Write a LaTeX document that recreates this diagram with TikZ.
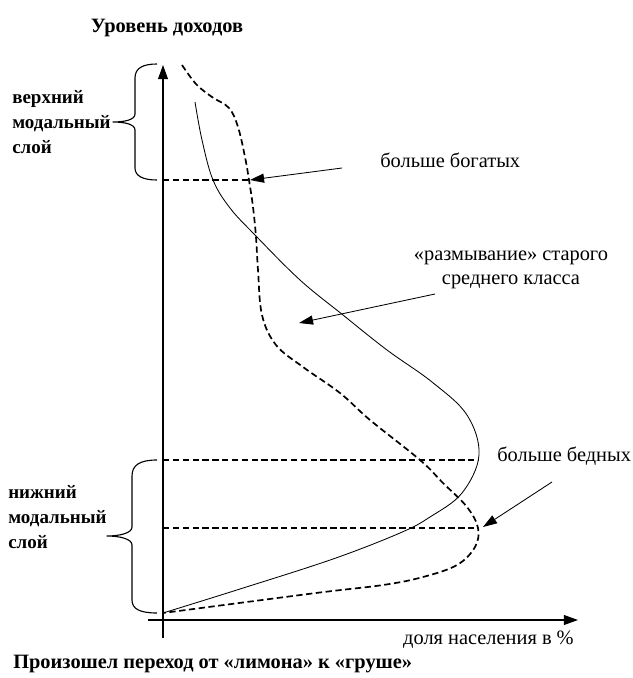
\documentclass[tikz,border=0pt]{standalone}
\usepackage{fontspec}
\setmainfont{Liberation Serif}
\usepackage{tikz}
\usetikzlibrary{arrows.meta}
\usetikzlibrary{positioning}
\tikzset{
    txt/.style = {align=center, inner sep=0pt, font=\fontsize{14.5}{17.5}\selectfont},
    txtb/.style = {align=left, inner sep=0pt, font=\fontsize{13.5}{17.5}\selectfont\bfseries},
    axis/.style = {-{Triangle[length=10pt,width=7pt]}, line width=0.8pt},
    ptr/.style = {-{Triangle[length=10pt,width=6.5pt]}, line width=0.6pt},
    brc/.style = {line width=0.8pt},
}
\begin{document}
\begin{tikzpicture}[
	x=0.025cm,
	y=-0.025cm,
	line join=round
]
\tikzset{
    oldc/.style = {line width=0.6pt},
    newc/.style = {line width=1.2pt, dash pattern=on 4.5pt off 2.5pt},
    lvl/.style = {line width=1.1pt, dash pattern=on 4.5pt off 2.5pt}
}
\useasboundingbox (0,0) rectangle (632,678);
\node[txt,font=\fontsize{14.5}{17.5}\selectfont\bfseries] at (167,28) (ytitle) {Уровень доходов};
\node[txt,anchor=east] at (574,640) (xtitle) {доля населения в \%};
\node[txt,font=\fontsize{14.5}{17.5}\selectfont\bfseries,anchor=west] at (13,664) (caption) {Произошел переход от «лимона» к «груше»};
\node[txtb,anchor=west] at (12,122) (upper) {верхний\\модальный\\слой};
\node[txtb,anchor=west] at (8,517) (lower) {нижний\\модальный\\слой};
\node[txt,anchor=west] at (380,160) (rich) {больше богатых};
\node[txt] at (511,270) (middle) {«размывание» старого\\среднего класса};
\node[txt,anchor=west] at (497,456) (poor) {больше бедных};
%
\coordinate (o) at (163,613);
\coordinate (ytop) at (163,65);
\coordinate (ybot) at (163,638);
\coordinate (xleft) at (148,620);
\coordinate (xright) at (578,620);
\draw[axis] (ybot) -- (ytop);
\draw[axis] (xleft) -- (xright);
%
\coordinate (u0) at (163,180);
\coordinate (u1) at (249,180);
\coordinate (m0) at (163,460);
\coordinate (m1) at (479,460);
\coordinate (l0) at (163,528);
\coordinate (l1) at (478,528);
\draw[lvl] (u0) -- (u1);
\draw[lvl] (m0) -- (m1);
\draw[lvl] (l0) -- (l1);
%
\draw[oldc] plot[smooth,tension=0.6] coordinates {(195,102) (202,140) (213,180) (230,208) (255,235) (300,280) (343,315) (387,350) (432,382) (467,415) (479,455) (462,493) (430,517) (400,533) (333,559) (240,589) (o)};
\draw[newc] plot[smooth,tension=0.6] coordinates {(182,65) (196,84) (212,97) (229,108) (238,127) (245,157) (249,180) (253,207) (256,237) (258,270) (262,315) (276,345) (303,367) (340,393) (370,420) (420,460) (443,483) (467,507) (478,528) (475,547) (457,565) (423,577) (383,585) (316,593) (o)};
%
\coordinate (a1) at (342,168);
\coordinate (b1) at (250,180);
\coordinate (a2) at (435,294);
\coordinate (b2) at (299,323);
\coordinate (a3) at (552,482);
\coordinate (b3) at (483,527);
\draw[ptr] (a1) -- (b1);
\draw[ptr] (a2) -- (b2);
\draw[ptr] (a3) -- (b3);
%
\draw[brc] (157,64) .. controls (143,64) and (135,68) .. (135,78) -- (135,114)
    .. controls (135,120) and (124,122) .. (113,122)
    .. controls (124,122) and (135,124) .. (135,130) -- (135,168)
    .. controls (135,176) and (143,180) .. (157,180);
\draw[brc] (157,460) .. controls (140,460) and (132,465) .. (132,476) -- (132,527)
    .. controls (132,533) and (120,536) .. (107,536)
    .. controls (120,536) and (132,539) .. (132,545) -- (132,600)
    .. controls (132,609) and (140,613) .. (157,613);
\end{tikzpicture}
\end{document}
